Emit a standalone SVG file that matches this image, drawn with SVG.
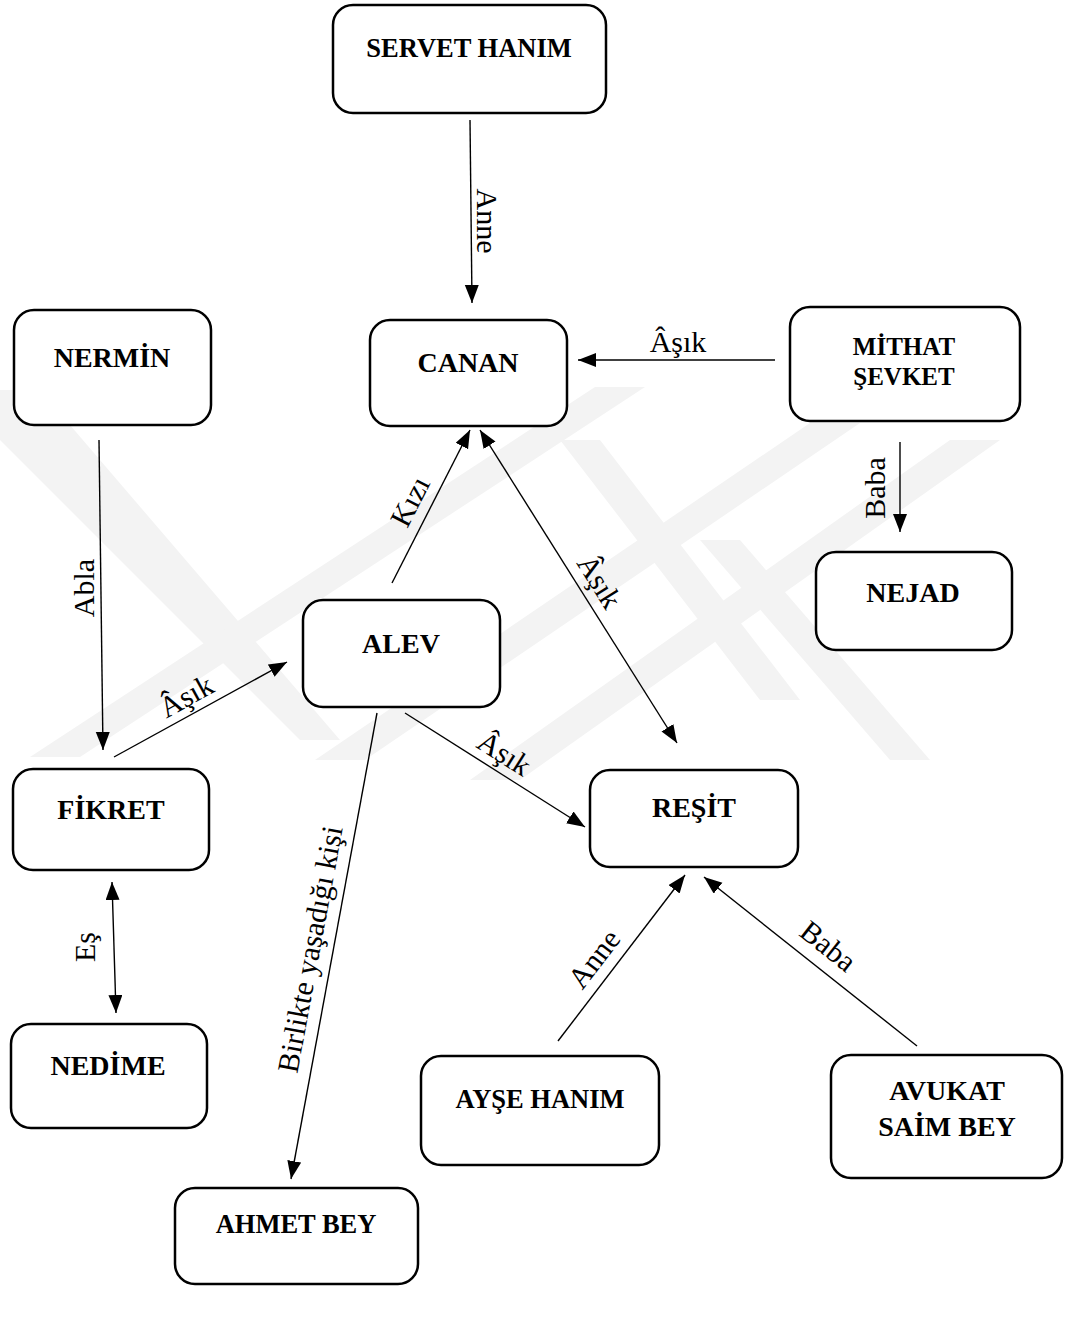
<svg xmlns="http://www.w3.org/2000/svg" width="1067" height="1317" viewBox="0 0 1067 1317">
<style>
.box{fill:#ffffff;stroke:#000;stroke-width:2.5}
.nt{font-family:"Liberation Serif","Times New Roman",serif;font-weight:bold;font-size:28px;fill:#000;text-anchor:middle}
.sm{font-size:26.5px}
.et{font-family:"Liberation Serif","Times New Roman",serif;font-size:30px;fill:#000;text-anchor:middle}
.ln{stroke:#000;stroke-width:1.4;fill:none;marker-end:url(#ah)}
.dbl{marker-start:url(#ahs)}
.wm{fill:#f3f3f3}
</style>
<defs>
<marker id="ah" markerUnits="userSpaceOnUse" markerWidth="20" markerHeight="16" refX="18" refY="7" orient="auto"><path d="M0,0 L18,7 L0,14 z" fill="#000"/></marker>
<marker id="ahs" markerUnits="userSpaceOnUse" markerWidth="20" markerHeight="16" refX="18" refY="7" orient="auto-start-reverse"><path d="M0,0 L18,7 L0,14 z" fill="#000"/></marker>
</defs>
<rect width="1067" height="1317" fill="#fff"/>
<g id="watermark">
<polygon class="wm" points="0,390 40,390 340,740 300,740 0,440"/>
<polygon class="wm" points="30,757 80,757 645,387 595,387"/>
<polygon class="wm" points="315,760 365,760 860,423 810,423"/>
<polygon class="wm" points="470,780 520,780 1000,440 950,440"/>
<polygon class="wm" points="560,440 600,440 800,700 760,700"/>
<polygon class="wm" points="700,540 740,540 930,760 890,760"/>
</g>
<g id="connectors">
<line class="ln" x1="470" y1="120" x2="472" y2="303"/>
<line class="ln" x1="775" y1="360" x2="578" y2="360"/>
<line class="ln" x1="99" y1="440" x2="103" y2="750"/>
<line class="ln" x1="114" y1="757" x2="287" y2="662"/>
<line class="ln" x1="392" y1="583" x2="470" y2="430"/>
<line class="ln dbl" x1="480" y1="430" x2="677" y2="743"/>
<line class="ln" x1="405" y1="713" x2="585" y2="827"/>
<line class="ln" x1="900" y1="442" x2="900" y2="532"/>
<line class="ln dbl" x1="112" y1="882" x2="116" y2="1013"/>
<line class="ln" x1="377" y1="713" x2="291" y2="1179"/>
<line class="ln" x1="558" y1="1041" x2="685" y2="875"/>
<line class="ln" x1="917" y1="1046" x2="704" y2="877"/>
<text class="et" transform="translate(477,221) rotate(90)">Anne</text>
<text class="et" x="678" y="352">Âşık</text>
<text class="et" transform="translate(94,588) rotate(-90)">Abla</text>
<text class="et" transform="translate(191,705) rotate(-28.9)">Âşık</text>
<text class="et" transform="translate(419,506) rotate(-63)">Kızı</text>
<text class="et" transform="translate(591,587) rotate(57.8)">Âşık</text>
<text class="et" transform="translate(499,762) rotate(32.3)">Âşık</text>
<text class="et" transform="translate(885,488) rotate(-90)">Baba</text>
<text class="et" transform="translate(95,947) rotate(-90)">Eş</text>
<text class="et" transform="translate(320,951) rotate(-79.5)">Birlikte yaşadığı kişi</text>
<text class="et" transform="translate(602,965) rotate(-52.6)">Anne</text>
<text class="et" transform="translate(822,954) rotate(38.4)">Baba</text>
</g>
<g id="servet"><rect class="box" x="333" y="5" width="273" height="108" rx="20"/><text class="nt sm" x="469" y="57">SERVET HANIM</text></g>
<g id="canan"><rect class="box" x="370" y="320" width="197" height="106" rx="20"/><text class="nt" x="468" y="372">CANAN</text></g>
<g id="nermin"><rect class="box" x="14" y="310" width="197" height="115" rx="20"/><text class="nt" x="112" y="367">NERMİN</text></g>
<g id="mithat"><rect class="box" x="790" y="307" width="230" height="114" rx="20"/><text class="nt" x="904" y="355" style="font-size:25px">MİTHAT</text><text class="nt" x="904" y="385" style="font-size:25px">ŞEVKET</text></g>
<g id="nejad"><rect class="box" x="816" y="552" width="196" height="98" rx="20"/><text class="nt" x="913" y="602">NEJAD</text></g>
<g id="alev"><rect class="box" x="303" y="600" width="197" height="107" rx="20"/><text class="nt" x="401" y="653">ALEV</text></g>
<g id="fikret"><rect class="box" x="13" y="769" width="196" height="101" rx="20"/><text class="nt" x="111" y="819">FİKRET</text></g>
<g id="resit"><rect class="box" x="590" y="770" width="208" height="97" rx="20"/><text class="nt" x="694" y="817">REŞİT</text></g>
<g id="nedime"><rect class="box" x="11" y="1024" width="196" height="104" rx="20"/><text class="nt" x="108" y="1075">NEDİME</text></g>
<g id="ayse"><rect class="box" x="421" y="1056" width="238" height="109" rx="20"/><text class="nt sm" x="540" y="1108">AYŞE HANIM</text></g>
<g id="avukat"><rect class="box" x="831" y="1055" width="231" height="123" rx="20"/><text class="nt" x="947" y="1100">AVUKAT</text><text class="nt" x="947" y="1136">SAİM BEY</text></g>
<g id="ahmet"><rect class="box" x="175" y="1188" width="243" height="96" rx="20"/><text class="nt sm" x="296" y="1233">AHMET BEY</text></g>
</svg>
